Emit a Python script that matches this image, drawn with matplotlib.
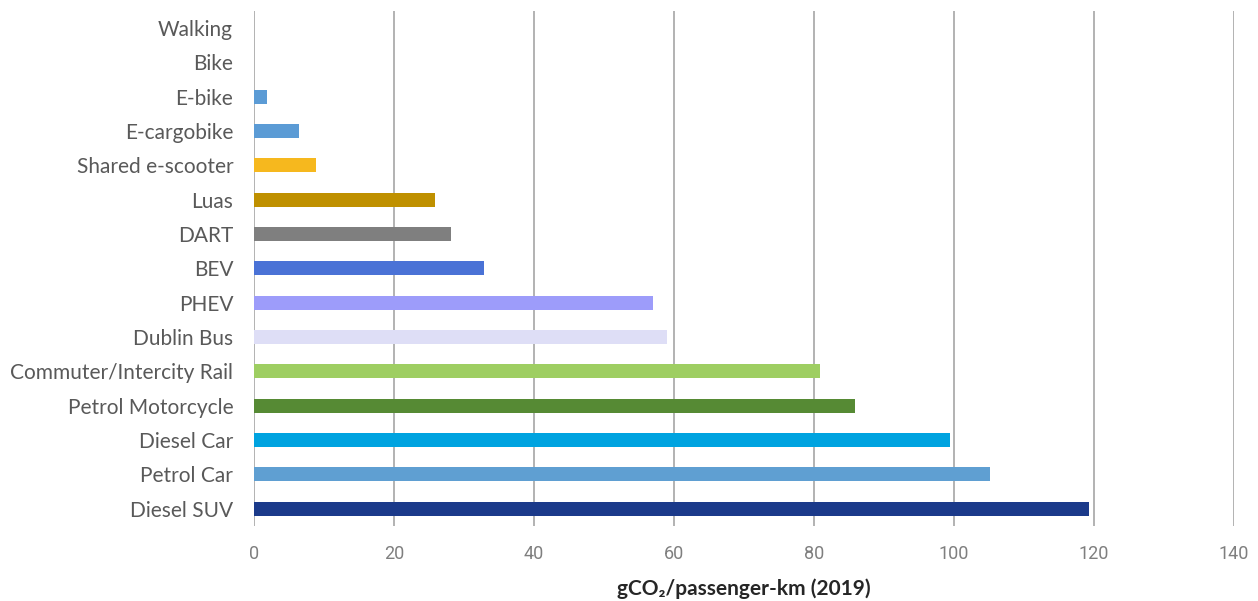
import matplotlib
matplotlib.use("Agg")
import matplotlib.pyplot as plt

categories = ["Walking", "Bike", "E-bike", "E-cargobike", "Shared e-scooter", "Luas",
              "DART", "BEV", "PHEV", "Dublin Bus", "Commuter/Intercity Rail",
              "Petrol Motorcycle", "Diesel Car", "Petrol Car", "Diesel SUV"]
values = [0, 0, 1.9, 6.5, 8.8, 25.8, 28.2, 32.9, 57.0, 59.0, 80.9, 85.9, 99.4, 105.1, 119.3]
colors = ["#5B9BD5", "#5B9BD5", "#5B9BD5", "#5B9BD5", "#F6B81E", "#BF9000",
          "#7F7F7F", "#4A72D6", "#9D9CFA", "#DEDEF6", "#9ECE62",
          "#568A34", "#00A3E0", "#5F9FD2", "#1B3A8A"]
xticks = [0, 20, 40, 60, 80, 100, 120, 140]
xlabel = "gCO\u2082/passenger-km (2019)"

fig = plt.figure(figsize=(12.58, 6.01), dpi=100)
ax = fig.add_axes([0.2019, 0.125, 0.7790, 0.857])

ypos = list(range(len(categories)))
ax.barh(ypos, values, height=0.41, color=colors, zorder=3)
ax.set_ylim(len(categories) - 0.5, -0.5)
ax.set_xlim(0, 140)
ax.set_yticks(ypos)
ax.set_yticklabels(categories, fontsize=15, color="#595959", family=["Lato", "DejaVu Sans"])
ax.set_xticks(xticks)
ax.set_xticklabels([str(t) for t in xticks], fontsize=13, color="#7F7F7F",
                   family=["Liberation Sans Narrow", "Roboto", "DejaVu Sans"])
ax.tick_params(axis="y", length=0, pad=15)
ax.tick_params(axis="x", length=0, pad=14)
ax.grid(axis="x", color="#A6A6A6", linewidth=1.2, zorder=0)
for s in ax.spines.values():
    s.set_visible(False)
ax.set_xlabel(xlabel, fontsize=15, fontweight="bold", color="#262626",
              family=["Lato", "DejaVu Sans"], labelpad=11)

fig.savefig("out.png", dpi=100, facecolor="white")
